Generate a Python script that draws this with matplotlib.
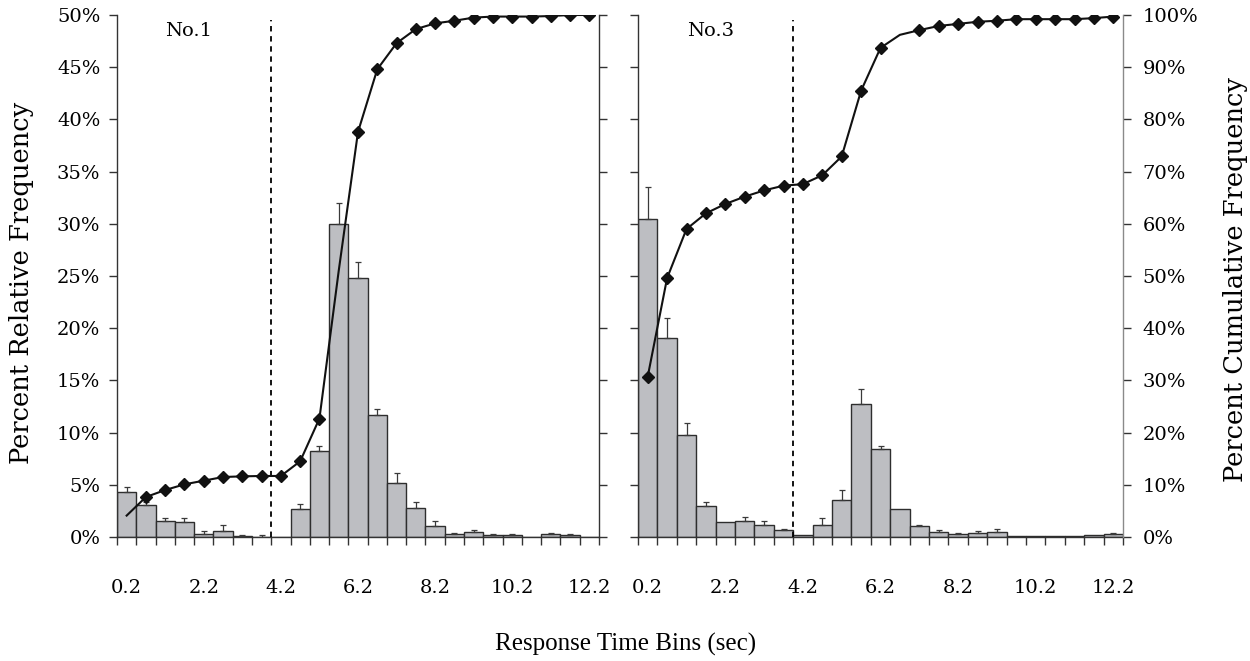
import matplotlib
matplotlib.use('Agg')
import matplotlib.pyplot as plt
import numpy as np

# ---------------- data ----------------
bins = [0.2, 0.7, 1.2, 1.7, 2.2, 2.7, 3.2, 3.7, 4.2, 4.7, 5.2, 5.7, 6.2,
        6.7, 7.2, 7.7, 8.2, 8.7, 9.2, 9.7, 10.2, 10.7, 11.2, 11.7, 12.2]
label_bins = [0.2, 2.2, 4.2, 6.2, 8.2, 10.2, 12.2]
label_text = ['0.2', '2.2', '4.2', '6.2', '8.2', '10.2', '12.2']

no1_freq = [4.28, 3.07, 1.56, 1.44, 0.29, 0.61, 0.10, 0.03, 0.0, 2.71, 8.27, 29.95, 24.8,
            11.69, 5.14, 2.78, 1.05, 0.29, 0.48, 0.22, 0.22, 0.0, 0.29, 0.22, 0.0]
no1_err = [0.51, 0.30, 0.29, 0.38, 0.28, 0.54, 0.09, 0.16, 0.0, 0.48, 0.45, 2.0, 1.5,
           0.6, 0.96, 0.54, 0.51, 0.09, 0.19, 0.07, 0.07, 0.0, 0.09, 0.07, 0.0]
no1_cum = [4.1, 7.66, 9.0, 10.09, 10.79, 11.49, 11.62, 11.69, 11.69, 14.5, 22.7, 51.0, 77.6,
           89.6, 94.6, 97.3, 98.4, 98.9, 99.5, 99.7, 99.7, 99.7, 99.8, 100.0, 100.0]
no1_markers = [i for i in range(25) if i not in (0, 11)]

no3_freq = [30.5, 19.1, 9.8, 2.94, 1.47, 1.53, 1.15, 0.67, 0.16, 1.15, 3.51, 12.7, 8.4,
            2.65, 1.02, 0.51, 0.29, 0.38, 0.51, 0.10, 0.06, 0.10, 0.10, 0.19, 0.29]
no3_err = [3.05, 1.9, 1.1, 0.44, 0.0, 0.39, 0.35, 0.13, 0.0, 0.64, 0.99, 1.48, 0.28,
           0.0, 0.10, 0.13, 0.06, 0.23, 0.22, 0.0, 0.0, 0.0, 0.0, 0.0, 0.09]
no3_cum = [30.7, 49.6, 59.0, 62.0, 63.8, 65.2, 66.4, 67.3, 67.6, 69.3, 72.9, 85.5, 93.7,
           96.2, 97.1, 97.9, 98.3, 98.7, 98.9, 99.2, 99.2, 99.2, 99.2, 99.4, 99.7]
no3_markers = [i for i in range(25) if i != 13]

panels = [
    dict(name='No.1', freq=no1_freq, err=no1_err, cum=no1_cum, mk=no1_markers,
         rect=[117 / 1250, 124 / 661, 482 / 1250, 522 / 661], left_labels=True),
    dict(name='No.3', freq=no3_freq, err=no3_err, cum=no3_cum, mk=no3_markers,
         rect=[638 / 1250, 124 / 661, 485 / 1250, 522 / 661], left_labels=False),
]

# ---------------- style ----------------
SERIF = ['DejaVu Serif']
TIMES = ['Liberation Serif']
plt.rcParams['font.family'] = SERIF
AX_COL = '#333333'
BAR_FACE = '#bdbec2'
BAR_EDGE = '#2e2e2e'
TICK_FS = 14

fig = plt.figure(figsize=(12.5, 6.61), dpi=100)

bar_w = bins[1] - bins[0]
xmin = bins[0] - bar_w / 2
xmax = bins[-1] + bar_w / 2
boundaries = [b - bar_w / 2 for b in bins] + [xmax]

for p in panels:
    ax = fig.add_axes(p['rect'])
    ax.bar(bins, p['freq'], width=bar_w, color=BAR_FACE, edgecolor=BAR_EDGE,
           linewidth=1.0, zorder=2)
    ex = [b for b, e in zip(bins, p['err']) if e > 0]
    ey = [f for f, e in zip(p['freq'], p['err']) if e > 0]
    ee = [e for e in p['err'] if e > 0]
    ax.errorbar(ex, ey, yerr=[[0] * len(ee), ee], fmt='none', ecolor='#3a3a3a',
                elinewidth=0.9, capsize=2.2, capthick=0.9, zorder=3)
    ax.axvline(3.95, ymin=0, ymax=0.99, color='black', lw=1.3,
               linestyle=(0, (3, 2.6)), zorder=4)

    ax.set_xlim(xmin, xmax)
    ax.set_ylim(0, 50)
    ax.set_xticks(boundaries)
    ax.set_xticklabels([])
    ax.set_xticks(label_bins, minor=True)
    ax.set_xticklabels(label_text, minor=True, fontsize=TICK_FS)
    ax.tick_params(axis='x', which='minor', length=0, pad=30)
    ax.tick_params(axis='x', which='major', direction='out', length=6, width=1.0,
                   color=AX_COL)
    yt = list(range(0, 51, 5))
    ax.set_yticks(yt)
    if p['left_labels']:
        ax.set_yticklabels([f'{v}%' for v in yt], fontsize=TICK_FS)
    else:
        ax.set_yticklabels([])
    ax.tick_params(axis='y', direction='out', length=6, width=1.0, color=AX_COL, pad=6)
    for s in ['left', 'bottom']:
        ax.spines[s].set_color(AX_COL)
        ax.spines[s].set_linewidth(1.0)
    ax.spines['top'].set_visible(False)
    ax.spines['right'].set_visible(False)

    ax.text(0.149, 0.97, p['name'], transform=ax.transAxes, fontsize=14,
            ha='center', va='center')

    ax2 = ax.twinx()
    ax2.plot(bins, p['cum'], color='#111111', lw=1.5, marker='D', ms=6.5,
             markevery=p['mk'], zorder=5)
    ax2.set_ylim(0, 100)
    yt2 = list(range(0, 101, 10))
    ax2.set_yticks(yt2)
    if p['left_labels']:
        ax2.set_yticklabels([])
        ax2.spines['right'].set_color(AX_COL)
    else:
        ax2.set_yticklabels([f'{v}%' for v in yt2], fontsize=TICK_FS)
        ax2.spines['right'].set_color('#8a8a8a')
    ax2.tick_params(axis='y', direction='out', length=6, width=1.0, color=AX_COL, pad=8)
    ax2.spines['right'].set_linewidth(1.0)
    for s in ['top', 'left', 'bottom']:
        ax2.spines[s].set_visible(False)

fig.text(22 / 1250, 1 - 283 / 661, 'Percent Relative Frequency', rotation=90,
         ha='center', va='center', fontsize=18.5)
fig.text(1235 / 1250, 1 - 279 / 661, 'Percent Cumulative Frequency', rotation=90,
         ha='center', va='center', fontsize=18.5)
fig.text(626 / 1250, 1 - 644 / 661, 'Response Time Bins (sec)', ha='center',
         va='center', fontsize=18, family=TIMES)

fig.savefig('out.png', dpi=100)
